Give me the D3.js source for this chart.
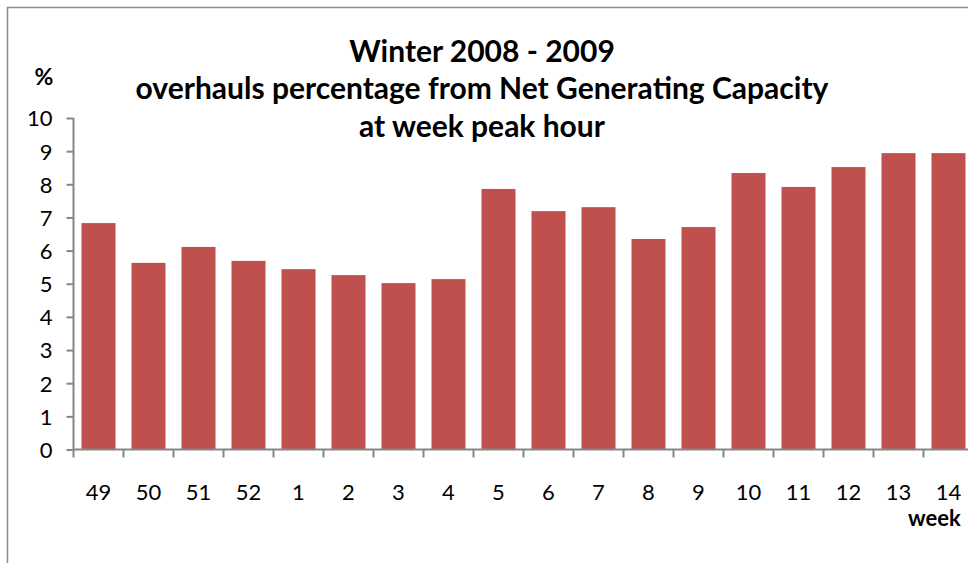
<!DOCTYPE html>
<html>
<head>
<meta charset="utf-8">
<script src="https://cdn.jsdelivr.net/npm/d3@7"></script>
<style>
  body { margin: 0; background: #fff; }
  text { font-family: Lato, "Open Sans", sans-serif; fill: #000; }
</style>
</head>
<body>
<div id="chart"></div>
<script>
const weeks = ["49", "50", "51", "52", "1", "2", "3", "4", "5", "6", "7", "8", "9", "10", "11", "12", "13", "14"];
const overhauls = [6.83, 5.63, 6.11, 5.69, 5.44, 5.26, 5.02, 5.14, 7.86, 7.19, 7.31, 6.35, 6.71, 8.34, 7.92, 8.52, 8.94, 8.94];
const yTicks = [0, 1, 2, 3, 4, 5, 6, 7, 8, 9, 10];
const titleLines = ["Winter 2008 - 2009", "overhauls percentage from Net Generating Capacity", "at week peak hour"];

const svgWidth = 968;
const svgHeight = 563;
const margin = { top: 118, left: 73.5 };
const height = 331.5;
const width = 900;

const svg = d3.select("#chart")
  .append("svg")
  .attr("width", svgWidth)
  .attr("height", svgHeight);

// chart area border (cut off on the right and bottom)
svg.append("path")
  .attr("d", "M7.5," + svgHeight + "V7.5H" + svgWidth)
  .attr("fill", "none")
  .attr("stroke", "#8c8c8c")
  .attr("stroke-width", 1.5);

const g = svg.append("g")
  .attr("transform", "translate(" + margin.left + "," + margin.top + ")");

const xScale = d3.scaleBand()
  .domain(weeks)
  .range([0, width])
  .paddingInner(0.32)
  .paddingOuter(0.16);

const yScale = d3.scaleLinear()
  .domain([0, 10])
  .range([height, 0]);

const step = xScale.step();

g.selectAll("rect.bar")
  .data(overhauls)
  .enter()
  .append("rect")
  .attr("class", "bar")
  .attr("x", function(d, i) { return xScale(weeks[i]); })
  .attr("y", function(d) { return yScale(d); })
  .attr("width", xScale.bandwidth())
  .attr("height", function(d) { return height - yScale(d); })
  .style("fill", "#c0504d");

// y axis
const yAxis = d3.axisLeft(yScale)
  .tickValues(yTicks)
  .tickSize(7)
  .tickPadding(14)
  .tickFormat(d3.format("d"));

const yG = g.append("g").call(yAxis);
yG.select(".domain").attr("d", "M0,0V" + height);
yG.selectAll("line, path").attr("stroke", "#868686").attr("stroke-width", 2);
yG.selectAll("text").style("font-size", "22px").attr("dy", "0.36em");

// x axis: ticks at category boundaries, labels centered
const xG = g.append("g").attr("transform", "translate(0," + height + ")");
xG.append("line")
  .attr("x1", 0).attr("x2", width)
  .attr("stroke", "#868686").attr("stroke-width", 2);
xG.selectAll("line.tick")
  .data(weeks)
  .enter()
  .append("line")
  .attr("class", "tick")
  .attr("x1", function(d) { return xScale(d) - xScale.padding() * step / 2; })
  .attr("x2", function(d) { return xScale(d) - xScale.padding() * step / 2; })
  .attr("y1", 0).attr("y2", 8)
  .attr("stroke", "#868686").attr("stroke-width", 2);
xG.selectAll("text")
  .data(weeks)
  .enter()
  .append("text")
  .attr("x", function(d) { return xScale(d) + xScale.bandwidth() / 2; })
  .attr("y", 50)
  .style("text-anchor", "middle")
  .style("font-size", "22px")
  .text(function(d) { return d; });

// axis titles
svg.append("text")
  .attr("x", 44)
  .attr("y", 85)
  .style("text-anchor", "middle")
  .style("font-size", "23px")
  .style("font-weight", "bold")
  .text("%");

svg.append("text")
  .attr("x", 908)
  .attr("y", 526)
  .style("font-size", "22px")
  .style("font-weight", "bold")
  .text("week");

// chart title
svg.append("text")
  .attr("x", 482)
  .attr("y", 61.5)
  .style("text-anchor", "middle")
  .style("font-size", "30px")
  .style("font-weight", "bold")
  .selectAll("tspan")
  .data(titleLines)
  .enter()
  .append("tspan")
  .attr("x", 482)
  .attr("dy", function(d, i) { return i === 0 ? 0 : 37.5; })
  .text(function(d) { return d; });
</script>
</body>
</html>
